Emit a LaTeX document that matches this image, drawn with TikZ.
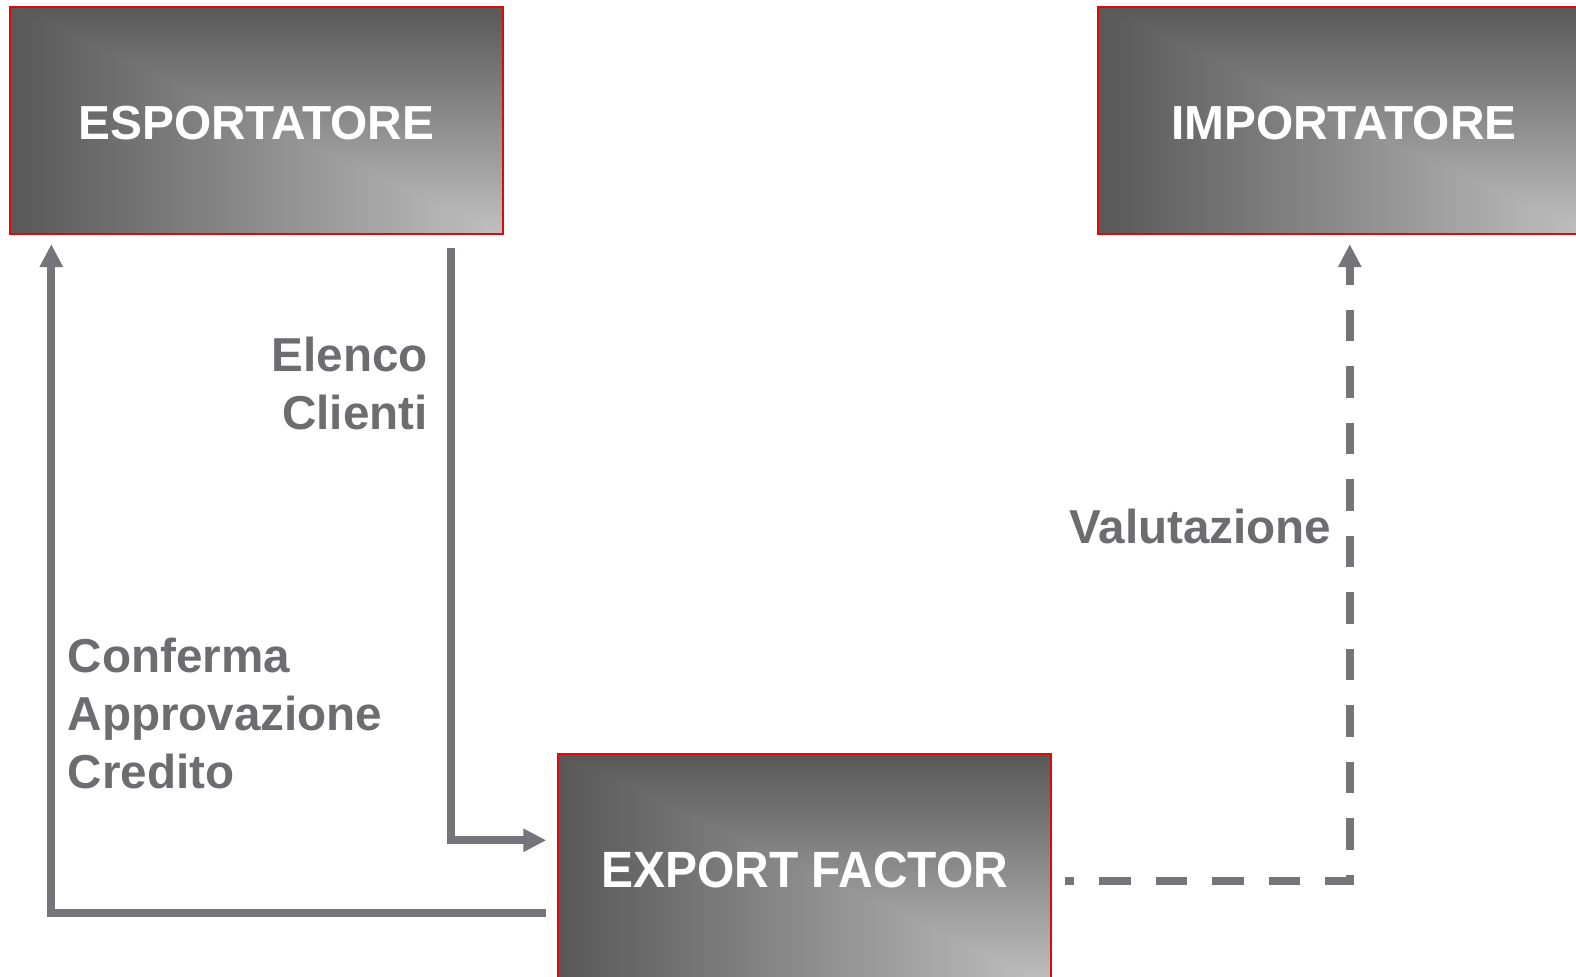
\documentclass[tikz,border=0pt]{standalone}
\usepackage{fontspec}
\setmainfont{Liberation Sans}
\usepackage{xcolor}
\usepackage{tikz}
\definecolor{boxred}{RGB}{220, 10, 10}
\definecolor{flowgray}{RGB}{116, 116, 121}
\definecolor{labelgray}{RGB}{108, 108, 113}
\usetikzlibrary{arrows.meta,positioning}
% dark along the top and left edges, light in the lower right corner
\pgfdeclarefunctionalshading{partyshade}{\pgfpoint{-50bp}{-50bp}}{\pgfpoint{50bp}{50bp}}{}{
  exch 25 add 50 div dup abs exch 1 sub abs sub 1 add 2 div
  exch 25 exch sub 50 div dup abs exch 1 sub abs sub 1 add 2 div
  2 copy add 3 1 roll sub abs sub 2 div
  0.408 mul 0.345 add dup dup
}

\begin{document}
\begin{tikzpicture}[x=0.5pt, y=-0.5pt,
    party/.style={draw=boxred, line width=1pt, shade, shading=partyshade,
        minimum width=246.3pt, minimum height=113.5pt, inner sep=0pt, text=white,
        text height=20pt, text depth=0.9pt,
        font=\bfseries\fontsize{23.9}{28}\selectfont},
    flow/.style={draw=flowgray, line width=4pt, -{Triangle[length=11.5pt, width=11pt]}},
    flowlabel/.style={text=labelgray, inner sep=0pt, font=\bfseries\fontsize{23.8}{28.8}\selectfont}]
    \useasboundingbox (0,0) rectangle (1576,977);
    % parties
    \node[party] (esp) at (256.3,120.6) {ESPORTATORE};
    \node[party] (imp) at (1343.9,120.6) {IMPORTATORE};
    \node[party, minimum height=115.6pt, text height=19pt, text depth=0.74pt,
        font=\bfseries\fontsize{25.5}{28}\selectfont] (ef) at (804.6,869.4) {\scalebox{0.94}[1]{EXPORT FACTOR}};
    % flows
    \draw[flow] ([shift={(-26.15pt,-6.55pt)}]esp.south east) |- ([shift={(-5.5pt,14.55pt)}]ef.west);
    \draw[flow] ([shift={(-5.5pt,-21.6pt)}]ef.west) -| ([shift={(21.15pt,-4.5pt)}]esp.south west);
    \draw[flow, dash pattern=on 15.75pt off 12.5pt, dash phase=11.25pt] ([shift={(6.55pt,-6.05pt)}]ef.east) -| ([shift={(2.95pt,-4.5pt)}]imp.south);
    % labels
    \node[flowlabel, align=right, anchor=north east] (lblelenco) at (428.2,337) {Elenco\\Clienti};
    \node[flowlabel, align=left, anchor=north west] (lblconferma) at (67.3,638) {Conferma\\Approvazione\\Credito};
    \node[flowlabel, anchor=base east] (lblvalutazione) at (1331.8,543.8) {Valutazione};
\end{tikzpicture}
\end{document}
